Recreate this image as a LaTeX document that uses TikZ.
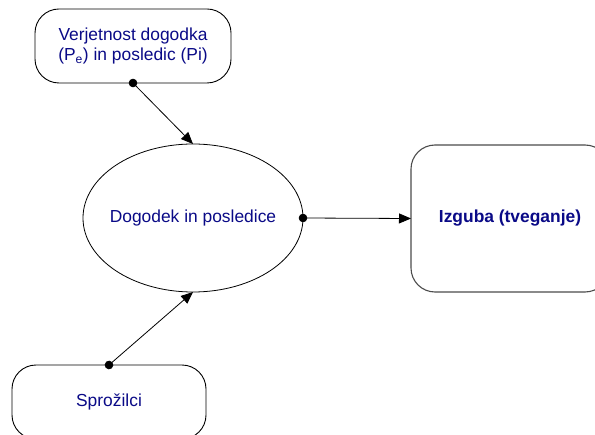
\documentclass[tikz,border=0pt]{standalone}
\usepackage{fontspec}
\setmainfont{Liberation Sans}
\usetikzlibrary{arrows.meta,shapes.geometric}
\definecolor{labelblue}{RGB}{10,10,135}
\begin{document}
\begin{tikzpicture}[x=1bp,y=-1bp,
  every node/.style={inner sep=0pt,outer sep=0pt,text=labelblue,
    font=\fontsize{17.4bp}{20bp}\selectfont,align=center},
  roundbox/.style={draw=black,line width=0.9bp,rounded corners=24bp,rectangle},
  bigbox/.style={roundbox,draw=black!70,line width=1.1bp},
  eventshape/.style={draw=black,line width=0.8bp,ellipse},
  link/.style={line width=0.8bp,
    {Circle[length=8.5bp]}-{Triangle[length=12bp,width=10bp]},
    shorten <=-4.25bp}
]
\clip (0,0) rectangle (595,435);
\fill[white] (0,0) rectangle (595,435);

\node[roundbox,minimum width=196bp,minimum height=74bp] (prob) at (133,46)
  {Verjetnost dogodka\\(P\textsubscript{e}) in posledic (Pi)};
% the ellipse keeps its own size; its label sits in the middle
\node[eventshape,minimum width=220bp,minimum height=148bp,
  label={center:Dogodek in posledice}] (event) at (193,218) {};
\node[bigbox,minimum width=198bp,minimum height=147bp] (loss) at (510,218.5)
  {\bfseries Izguba (tveganje)};
\node[roundbox,minimum width=194bp,minimum height=74bp] (trig) at (109,402)
  {Sprožilci};

\draw[link] (prob.south) -- (event.north);
\draw[link] (trig.north) -- (event.south);
\draw[link] (event.east) -- (loss.west);
\end{tikzpicture}
\end{document}
